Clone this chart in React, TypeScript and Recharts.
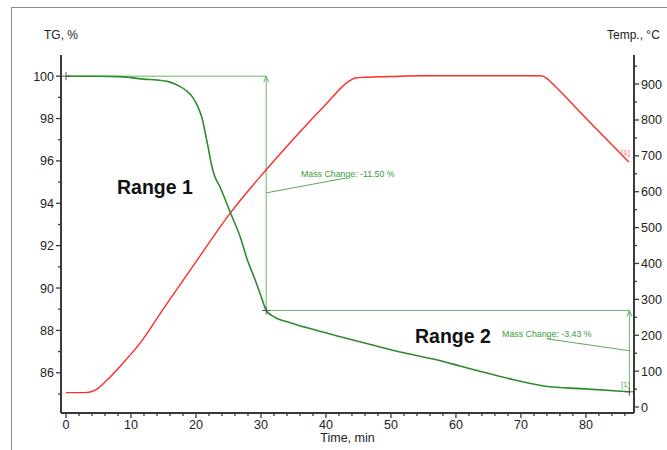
import React from 'react';
import { ComposedChart, Line, XAxis, YAxis, ReferenceDot } from 'recharts';

// TG curve (green), left axis
const tgTime = [0, 5, 8, 10, 12, 14, 16, 17.5, 18.6, 19.5, 20.3, 21.0, 21.5, 21.9, 22.3, 22.8, 23.7, 25.3, 26.8, 27.9, 29.1, 30.2, 30.8, 31.9, 34.5, 37.1, 42.2, 47, 52, 57, 60.5, 63.8, 68.9, 74.1, 79.2, 86.7];
const tgValues = [100, 100, 99.98, 99.93, 99.86, 99.82, 99.72, 99.52, 99.3, 99.0, 98.55, 97.95, 97.2, 96.6, 95.95, 95.35, 94.77, 93.55, 92.42, 91.33, 90.39, 89.44, 88.94, 88.66, 88.36, 88.12, 87.7, 87.32, 86.94, 86.61, 86.33, 86.06, 85.67, 85.35, 85.25, 85.1];

// Temperature curve (red), right axis
const tempTime = [0, 3, 4.5, 6.3, 8.8, 11.4, 15, 20.2, 25.3, 30.8, 36.05, 40, 43.4, 44.5, 46, 50, 55, 60, 65, 70, 73, 74, 74.6, 80, 86.6];
const tempValues = [40, 40, 47, 75, 123, 178, 274, 410, 541, 661, 768, 844, 906, 917, 919, 921, 923, 923, 923, 923, 923, 916, 906, 805, 683];

// Range brackets
const range1Time = [0, 30.8, 30.8];
const range1Tg = [100, 100, 88.94];
const range2Time = [30.8, 86.7, 86.7];
const range2Tg = [88.94, 88.94, 85.1];

// Leader lines of the mass change annotations
const leader1Time = [30.8, 43.2];
const leader1Tg = [94.49, 95.2];
const leader2Time = [74.0, 86.7];
const leader2Tg = [87.6, 87.04];

// Text annotations
const massChange1 = 'Mass Change: -11.50 %';
const massChange2 = 'Mass Change: -3.43 %';
const rangeLabels = ['Range 1', 'Range 2'];

// Ticks
const xTicks = [0, 2, 4, 6, 8, 10, 12, 14, 16, 18, 20, 22, 24, 26, 28, 30, 32, 34, 36, 38, 40, 42, 44, 46, 48, 50, 52, 54, 56, 58, 60, 62, 64, 66, 68, 70, 72, 74, 76, 78, 80, 82, 84, 86];
const tgTicks = [85, 86, 87, 88, 89, 90, 91, 92, 93, 94, 95, 96, 97, 98, 99, 100];
const tempTicks = [0, 50, 100, 150, 200, 250, 300, 350, 400, 450, 500, 550, 600, 650, 700, 750, 800, 850, 900, 950];

const FONT = '"Liberation Sans", Arial, sans-serif';
const AXIS = '#3a3a3a';

const zip = (xs: number[], ys: number[], k: string) => xs.map((t, i) => ({ t, [k]: ys[i] }));

const tgData = zip(tgTime, tgValues, 'v');
const tempData = zip(tempTime, tempValues, 'v');
const r1Data = zip(range1Time, range1Tg, 'v');
const r2Data = zip(range2Time, range2Tg, 'v');
const l1Data = zip(leader1Time, leader1Tg, 'v');
const l2Data = zip(leader2Time, leader2Tg, 'v');

const XTick = (p: any) => {
  const v = p.payload.value;
  const major = v % 10 === 0;
  return (
    <g>
      <line x1={p.x} y1={p.y} x2={p.x} y2={p.y + (major ? 5 : 3)} stroke={AXIS} strokeWidth={1.3} />
      {major && (
        <text x={p.x} y={p.y + 16} textAnchor="middle" fontSize={12.5} fontFamily={FONT} fill="#222">{v}</text>
      )}
    </g>
  );
};

const LeftTick = (p: any) => {
  const v = p.payload.value;
  const major = v % 2 === 0;
  return (
    <g>
      <line x1={p.x - (major ? 5 : 3)} y1={p.y} x2={p.x} y2={p.y} stroke={AXIS} strokeWidth={1.3} />
      {major && (
        <text x={p.x - 7} y={p.y + 4.5} textAnchor="end" fontSize={12.5} fontFamily={FONT} fill="#222">{v}</text>
      )}
    </g>
  );
};

const RightTick = (p: any) => {
  const v = p.payload.value;
  const major = v % 100 === 0;
  return (
    <g>
      <line x1={p.x} y1={p.y} x2={p.x + (major ? 5 : 3)} y2={p.y} stroke={AXIS} strokeWidth={1.3} />
      {major && (
        <text x={p.x + 7} y={p.y + 4.5} textAnchor="start" fontSize={12.5} fontFamily={FONT} fill="#222">{v}</text>
      )}
    </g>
  );
};

const textShape = (txt: string, size: number, color: string, bold = false) => (p: any) => (
  <text x={p.cx} y={p.cy} dy={size * 0.35} textAnchor="start" fontSize={size} fontFamily={FONT} fontWeight={bold ? 'bold' : 'normal'} fill={color}>{txt}</text>
);

const plusShape = (p: any) => (
  <path d={`M${p.cx - 4},${p.cy}H${p.cx + 4}M${p.cx},${p.cy - 4}V${p.cy + 4}`} stroke="#555" strokeWidth={1} />
);

const arrowUp = (p: any) => (
  <path d={`M${p.cx - 2.5},${p.cy + 6}L${p.cx},${p.cy}L${p.cx + 2.5},${p.cy + 6}`} stroke="#5cb85c" strokeWidth={1} fill="none" />
);

export default function App() {
  return (
    <div style={{ position: 'absolute', left: 0, top: 0, width: 667, height: 450, background: '#fff', overflow: 'hidden' }}>
      <div style={{ position: 'absolute', left: 11, top: 7, width: 700, height: 500, borderLeft: '1.5px solid #8a8a8a', borderTop: '1.5px solid #8a8a8a' }} />
      <div style={{ position: 'absolute', left: 0, top: 0 }}>
        <ComposedChart width={667} height={450} margin={{ top: 55, right: 0, bottom: 0, left: 0 }}>
          <XAxis
            dataKey="t"
            type="number"
            domain={[-0.77, 87.4]}
            allowDataOverflow
            ticks={xTicks}
            interval={0}
            tickSize={0}
            tickMargin={0}
            tickLine={false}
            tick={XTick}
            height={37}
            axisLine={{ stroke: AXIS, strokeWidth: 2 }}
            label={{
              content: (props: any) => {
                const vb = props.viewBox;
                return (
                  <text x={vb.x + vb.width / 2} y={vb.y + 28.5} textAnchor="middle" fontSize={12.5} fontFamily={FONT} fill="#222">Time, min</text>
                );
              },
            }}
          />
          <YAxis
            yAxisId="tg"
            orientation="left"
            type="number"
            domain={[84.1, 101]}
            allowDataOverflow
            ticks={tgTicks}
            interval={0}
            tickSize={0}
            tickMargin={0}
            tickLine={false}
            tick={LeftTick}
            width={61}
            axisLine={{ stroke: AXIS, strokeWidth: 2 }}
            label={{
              content: (props: any) => {
                const vb = props.viewBox;
                return (
                  <text x={44} y={vb.y - 16} textAnchor="start" fontSize={12} fontFamily={FONT} fill="#222">TG, %</text>
                );
              },
            }}
          />
          <YAxis
            yAxisId="temp"
            orientation="right"
            type="number"
            domain={[-16.7, 981]}
            allowDataOverflow
            ticks={tempTicks}
            interval={0}
            tickSize={0}
            tickMargin={0}
            tickLine={false}
            tick={RightTick}
            width={33}
            axisLine={{ stroke: AXIS, strokeWidth: 2 }}
            label={{
              content: (props: any) => {
                const vb = props.viewBox;
                return (
                  <text x={vb.x - 27} y={vb.y - 16} textAnchor="start" fontSize={12} fontFamily={FONT} fill="#222">Temp., °C</text>
                );
              },
            }}
          />

          <Line yAxisId="tg" data={r1Data} dataKey="v" type="linear" stroke="#66bb66" strokeWidth={1} dot={false} isAnimationActive={false} />
          <Line yAxisId="tg" data={r2Data} dataKey="v" type="linear" stroke="#66bb66" strokeWidth={1} dot={false} isAnimationActive={false} />
          <Line yAxisId="tg" data={l1Data} dataKey="v" type="linear" stroke="#5aa85a" strokeWidth={1} dot={false} isAnimationActive={false} />
          <Line yAxisId="tg" data={l2Data} dataKey="v" type="linear" stroke="#5aa85a" strokeWidth={1} dot={false} isAnimationActive={false} />
          <Line yAxisId="temp" data={tempData} dataKey="v" type="monotone" stroke="#ff2a2a" strokeWidth={1.4} dot={false} isAnimationActive={false} />
          <Line yAxisId="tg" data={tgData} dataKey="v" type="monotone" stroke="#2e8b2e" strokeWidth={1.6} dot={false} isAnimationActive={false} />

          <ReferenceDot yAxisId="tg" x={range1Time[0]} y={range1Tg[0]} r={4} shape={plusShape} />
          <ReferenceDot yAxisId="tg" x={range1Time[2]} y={range1Tg[2]} r={4} shape={plusShape} />
          <ReferenceDot yAxisId="tg" x={range2Time[2]} y={range2Tg[2]} r={4} shape={plusShape} />
          <ReferenceDot yAxisId="tg" x={range1Time[1]} y={range1Tg[1]} r={4} shape={arrowUp} />
          <ReferenceDot yAxisId="tg" x={range2Time[1]} y={range2Tg[1]} r={4} shape={arrowUp} />

          <ReferenceDot yAxisId="tg" x={36.15} y={95.39} r={1} shape={textShape(massChange1, 8.8, '#3c9a3c')} />
          <ReferenceDot yAxisId="tg" x={67.1} y={87.84} r={1} shape={textShape(massChange2, 8.8, '#3c9a3c')} />
          <ReferenceDot yAxisId="tg" x={7.85} y={94.77} r={1} shape={textShape(rangeLabels[0], 19.5, '#111', true)} />
          <ReferenceDot yAxisId="tg" x={53.7} y={87.75} r={1} shape={textShape(rangeLabels[1], 19.5, '#111', true)} />
          <ReferenceDot yAxisId="tg" x={85.4} y={85.48} r={1} shape={textShape('[1]', 8, '#4caf50')} />
          <ReferenceDot yAxisId="temp" x={85.4} y={711} r={1} shape={textShape('[1]', 8, '#ff6677')} />
        </ComposedChart>
      </div>
    </div>
  );
}
